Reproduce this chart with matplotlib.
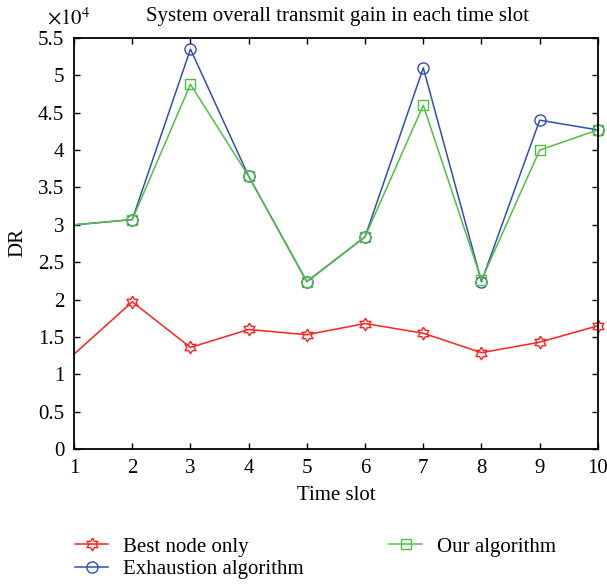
import matplotlib
matplotlib.use("Agg")
import numpy as np
import matplotlib.pyplot as plt
from matplotlib.ticker import MultipleLocator, FuncFormatter

time_slots = [1, 2, 3, 4, 5, 6, 7, 8, 9, 10]
best_node = [12700, 19700, 13600, 16000, 15300, 16800, 15500, 12900, 14300, 16500]
exhaustion = [30000, 30700, 53500, 36500, 22400, 28400, 51000, 22400, 44000, 42700]
our_alg = [30000, 30700, 48800, 36500, 22400, 28400, 46000, 22600, 40000, 42700]

plt.rcParams['font.family'] = ['Liberation Serif', 'DejaVu Serif']
plt.rcParams['mathtext.fontset'] = 'stix'

# hexagram marker
ang = np.pi / 2 + np.arange(12) * np.pi / 6
rad = np.where(np.arange(12) % 2 == 0, 1.0, 0.58)
hexagram = list(zip(rad * np.cos(ang), rad * np.sin(ang)))
hexagram.append(hexagram[0])

fig = plt.figure(figsize=(6.07, 5.84), dpi=100)
ax = fig.add_axes([0.122, 0.231, 0.863, 0.704])

mk = list(range(1, 10))
ax.plot(time_slots, best_node, color='#ff2020', lw=1.1, marker=hexagram, ms=9,
        mfc='none', mec='#ff2020', mew=1.0, markevery=mk, clip_on=False,
        label='Best node only')
ax.plot(time_slots, exhaustion, color='#3050b0', lw=1.1, marker='o', ms=8,
        mfc='none', mec='#3050b0', mew=1.0, markevery=mk, clip_on=False,
        label='Exhaustion algorithm')
ax.plot(time_slots, our_alg, color='#50c040', lw=1.1, marker='s', ms=7,
        mfc='none', mec='#50c040', mew=1.0, markevery=mk, clip_on=False,
        label='Our algorithm')

ax.set_xlim(1, 10)
ax.set_ylim(0, 55000)
ax.xaxis.set_major_locator(MultipleLocator(1))
ax.yaxis.set_major_locator(MultipleLocator(5000))
ax.yaxis.set_major_formatter(FuncFormatter(lambda v, p: f"{v/1e4:g}"))
ax.tick_params(direction='in', top=True, right=True, labelsize=15, length=4, width=1, pad=7)
for s in ax.spines.values():
    s.set_linewidth(1.3)

fig.text(47 / 607, 1 - 24 / 584, r'$\times10^4$', fontsize=15, ha='left', va='baseline')
fig.text(338 / 607, 1 - 17 / 584, 'System overall transmit gain in each time slot',
         fontsize=15, ha='center', va='center')
fig.text(336 / 607, 1 - 496 / 584, 'Time slot', fontsize=15, ha='center', va='center')
fig.text(18 / 607, 1 - 243 / 584, 'DR', fontsize=15, ha='center', va='center', rotation=90)

ax.legend(loc='upper left', bbox_to_anchor=(75 / 607, 1 - 537 / 584),
          bbox_transform=fig.transFigure, ncol=2, frameon=False,
          fontsize=15, handlelength=1.6, handletextpad=0.7, columnspacing=4.1,
          labelspacing=0.15, borderpad=0, borderaxespad=0)

fig.savefig('out.png', dpi=100)
